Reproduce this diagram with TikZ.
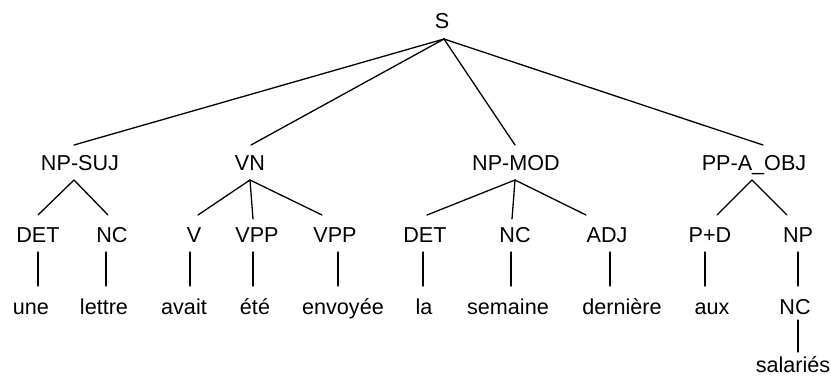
\documentclass[tikz,border=0pt]{standalone}
\usepackage{fontspec}
\setmainfont{Liberation Sans}
\begin{document}
\begin{tikzpicture}[x=1pt,y=-1pt,
  lbl/.style={anchor=base,inner sep=0pt,font=\fontsize{21.6}{26}\selectfont},
  edge/.style={line width=1.3pt,line cap=round}]
\useasboundingbox (0,0) rectangle (831,376);
% labels
\node[lbl] (S) at (442,28) {S};
\node[lbl] (npsuj) at (80,170) {NP-SUJ};
\node[lbl] (vn) at (250,170) {VN};
\node[lbl] (npmod) at (516,170) {NP-MOD};
\node[lbl] (ppaobj) at (754,170) {PP-A\_OBJ};
\node[lbl] (det1) at (38,242) {DET};
\node[lbl] (nc1) at (112,242) {NC};
\node[lbl] (v) at (194,242) {V};
\node[lbl] (vpp1) at (257,242) {VPP};
\node[lbl] (vpp2) at (335,242) {VPP};
\node[lbl] (det2) at (425,242) {DET};
\node[lbl] (nc2) at (515,242) {NC};
\node[lbl] (adj) at (607,242) {ADJ};
\node[lbl] (pd) at (710,242) {P+D};
\node[lbl] (np) at (798,242) {NP};
\node[lbl] (une) at (31,314) {une};
\node[lbl] (lettre) at (104,314) {lettre};
\node[lbl] (avait) at (184,314) {avait};
\node[lbl] (ete) at (255,314) {été};
\node[lbl] (envoyee) at (343,314) {envoyée};
\node[lbl] (la) at (424,314) {la};
\node[lbl] (semaine) at (508,314) {semaine};
\node[lbl] (derniere) at (622,314) {dernière};
\node[lbl] (aux) at (712,314) {aux};
\node[lbl] (nc3) at (795,314) {NC};
\node[lbl] (salaries) at (793,372) {salariés};
% attachment points
\coordinate (S-b) at (444,39);
\coordinate (npsuj-t) at (74,145);   \coordinate (npsuj-b) at (74,180);
\coordinate (vn-t) at (251,145);     \coordinate (vn-b) at (250,180);
\coordinate (npmod-t) at (515,145);  \coordinate (npmod-b) at (515,180);
\coordinate (ppaobj-t) at (763,145); \coordinate (ppaobj-b) at (752,180);
\coordinate (det1-t) at (38,215);  \coordinate (det1-b) at (38,252);
\coordinate (nc1-t) at (108,215);  \coordinate (nc1-b) at (106,252);
\coordinate (v-t) at (198,215);    \coordinate (v-b) at (190,252);
\coordinate (vpp1-t) at (253,219); \coordinate (vpp1-b) at (253,252);
\coordinate (vpp2-t) at (322,215); \coordinate (vpp2-b) at (338,252);
\coordinate (det2-t) at (427,215); \coordinate (det2-b) at (423,252);
\coordinate (nc2-t) at (512,219);  \coordinate (nc2-b) at (511,252);
\coordinate (adj-t) at (586,215);  \coordinate (adj-b) at (610,252);
\coordinate (pd-t) at (717,215);   \coordinate (pd-b) at (705,252);
\coordinate (np-t) at (787,215);   \coordinate (np-b) at (798,252);
\coordinate (une-t) at (38,286);
\coordinate (lettre-t) at (106,286);
\coordinate (avait-t) at (190,286);
\coordinate (ete-t) at (253,286);
\coordinate (envoyee-t) at (338,286);
\coordinate (la-t) at (423,286);
\coordinate (semaine-t) at (511,286);
\coordinate (derniere-t) at (610,286);
\coordinate (aux-t) at (705,286);
\coordinate (nc3-t) at (798,286);  \coordinate (nc3-b) at (798,320);
\coordinate (salaries-t) at (798,352);
% edges
\foreach \c in {npsuj,vn,npmod,ppaobj} \draw[edge] (S-b) -- (\c-t);
\draw[edge] (npsuj-b) -- (det1-t);
\draw[edge] (npsuj-b) -- (nc1-t);
\draw[edge] (vn-b) -- (v-t);
\draw[edge] (vn-b) -- (vpp1-t);
\draw[edge] (vn-b) -- (vpp2-t);
\draw[edge] (npmod-b) -- (det2-t);
\draw[edge] (npmod-b) -- (nc2-t);
\draw[edge] (npmod-b) -- (adj-t);
\draw[edge] (ppaobj-b) -- (pd-t);
\draw[edge] (ppaobj-b) -- (np-t);
\draw[edge] (det1-b) -- (une-t);
\draw[edge] (nc1-b) -- (lettre-t);
\draw[edge] (v-b) -- (avait-t);
\draw[edge] (vpp1-b) -- (ete-t);
\draw[edge] (vpp2-b) -- (envoyee-t);
\draw[edge] (det2-b) -- (la-t);
\draw[edge] (nc2-b) -- (semaine-t);
\draw[edge] (adj-b) -- (derniere-t);
\draw[edge] (pd-b) -- (aux-t);
\draw[edge] (np-b) -- (nc3-t);
\draw[edge] (nc3-b) -- (salaries-t);
\end{tikzpicture}
\end{document}
